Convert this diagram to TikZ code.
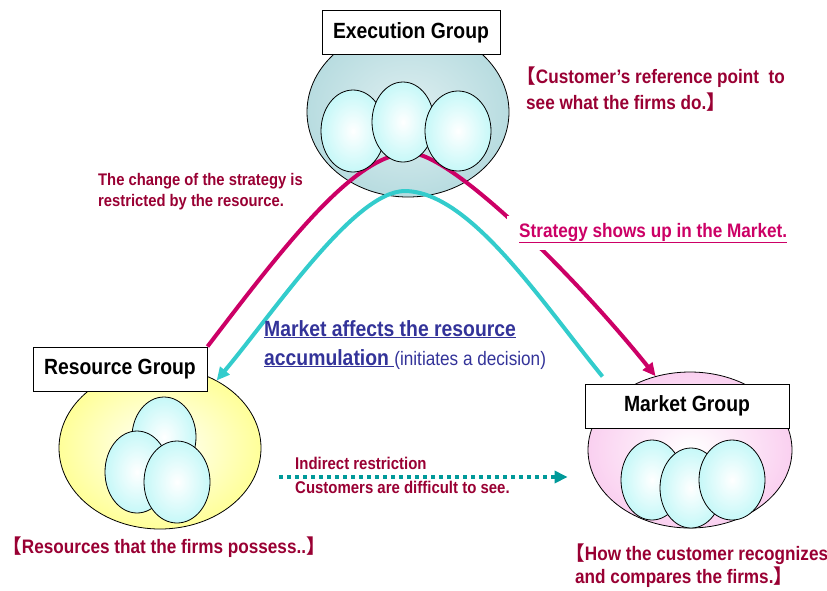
\documentclass[tikz,border=0pt]{standalone}
\usepackage{fontspec}
\setmainfont{Liberation Sans}[FakeStretch=0.88]
\newfontfamily\cjk{Noto Sans CJK JP}
\usetikzlibrary{shapes.geometric,arrows.meta}

\definecolor{wine}{HTML}{990033}
\definecolor{rose}{HTML}{CC0066}
\definecolor{navy}{HTML}{333399}
\definecolor{aqua}{HTML}{33CCCC}
\definecolor{sea}{HTML}{009999}
\definecolor{execc}{HTML}{B8DCE0}
\definecolor{resc}{HTML}{FFFF99}
\definecolor{mktc}{HTML}{FAD0F0}
\definecolor{eggc}{HTML}{C6F8F8}

\newcommand\lbr{\leavevmode\kern-.5em{\cjk 【}}
\newcommand\rbr{{\cjk 】}}

\begin{document}
\begin{tikzpicture}[x=1pt,y=-1pt,
  grp/.style={draw,line width=1pt,fill=white,inner sep=0pt,minimum height=44pt,
    font=\bfseries\fontsize{22}{26}\selectfont},
  blob/.style={ellipse,draw,line width=0.8pt,inner sep=0pt},
  egg/.style={draw,line width=0.8pt,inner color=white,outer color=eggc},
  note/.style={anchor=base west,inner sep=0pt,align=left,text=wine,
    font=\bfseries\fontsize{19.5}{26}\selectfont},
  small/.style={note,font=\bfseries\fontsize{16.8}{21}\selectfont},
  tip/.style={-{Triangle[length=13pt,width=12pt]}}]
      \useasboundingbox (0,0) rectangle (827,590);

      \node[blob,minimum width=202pt,minimum height=170pt,inner color=white!55!execc,outer color=execc] (exe) at (408,112) {};
      \node[blob,minimum width=202pt,minimum height=162pt,inner color=white,outer color=resc] (res) at (160,448) {};
      \node[blob,minimum width=204pt,minimum height=156pt,inner color=white,outer color=mktc] (mkt) at (690,450) {};

      \node[grp,minimum width=178pt] (exebox) at (411,32.5) {Execution Group};
      \node[grp,minimum width=174pt] (resbox) at (120,369) {Resource Group};
      \node[grp,minimum width=204pt] (mktbox) at (687,406) {Market Group};

      \draw[rose,line width=4pt,tip] (resbox.north east) .. controls (285,245) and (355,153) .. (410,153)
        .. controls (450,153) and (570,270) .. (mkt.115);
      \draw[aqua,line width=4pt,tip] ([shift={(18,-7)}]mktbox.north west) .. controls (540,300) and (470,192) .. (405,191)
        .. controls (355,191) and (277,308) .. (res.50);
      \draw[sea,line width=4pt,dash pattern=on 4pt off 4pt,tip] ([shift={(18,29)}]res.east) -- ([shift={(-20,27)}]mkt.west);

      \foreach \x/\y/\a/\b in {353/131/32/41,403/122/31/40,458/131/33/40,
        164/437/32/40,137/472/32/41,177/482/33/41,
        652/480/31/40,691/488/31/40,732/480/33/40}
      \draw[egg] (\x,\y) ellipse [x radius=\a pt,y radius=\b pt];

      \node[note] (cust) at (526,109) {\lbr Customer’s reference point\ \ to\\see what the firms do.\rbr};
      \node[small] (chg) at (98,206) {The change of the strategy is\\restricted by the resource.};
      \node[note,text=rose,fill=white,inner xsep=12pt,inner ysep=7pt] (strat) at (507,237) {\underline{Strategy shows up in the Market.}};
      \node[note,text=navy,font=\bfseries\fontsize{22}{29}\selectfont] (mkteff) at (264,365)
        {\underline{Market affects the resource}\\\underline{accumulation\ }{\mdseries\fontsize{19.5}{29}\selectfont(initiates a decision)}};
      \node[small,font=\bfseries\fontsize{17}{24}\selectfont] (indir) at (295,493) {Indirect restriction\\Customers are difficult to see.};
      \node[note] (poss) at (12,553) {\lbr Resources that the firms possess..\rbr};
      \node[note,font=\bfseries\fontsize{19.5}{23}\selectfont] (recog) at (575,583) {\lbr How the customer recognizes\\and compares the firms.\rbr};
    \end{tikzpicture}
\end{document}
